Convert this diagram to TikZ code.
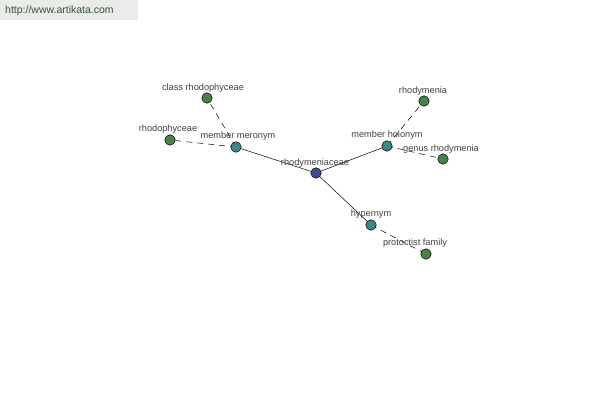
\documentclass[tikz,border=0pt]{standalone}
\usepackage{fontspec}
\setmainfont{Liberation Sans}
\begin{document}
\begin{tikzpicture}[x=1pt,y=-1pt,
  vtx/.style={circle,draw=black,line width=0.5pt,minimum size=10.5pt,inner sep=0pt},
  leaf/.style={vtx,fill={rgb,255:red,72;green,130;blue,72}},
  rel/.style={vtx,fill={rgb,255:red,58;green,136;blue,140}},
  hub/.style={vtx,fill={rgb,255:red,70;green,70;blue,150}},
  lbl/.style={font=\fontsize{9.2}{11}\selectfont,text=black!75,inner sep=0pt},
  solidedge/.style={draw=black,line width=0.5pt},
  dashedge/.style={draw=black,line width=0.5pt,dashed,dash pattern=on 6pt off 5pt}]
\useasboundingbox (0,0) rectangle (600,400);
\fill[white] (0,0) rectangle (600,400);
\fill[black!8] (0,0) rectangle (138,20);
\node[font=\fontsize{10.5}{12}\selectfont,text={rgb,255:red,55;green,85;blue,55},anchor=west,inner sep=0pt] (url) at (5,11) {http://www.artikata.com};
% nodes
\coordinate (c) at (316,173);
\coordinate (mm) at (236,147);
\coordinate (mh) at (387,146);
\coordinate (hy) at (371,225);
\coordinate (cr) at (207,98);
\coordinate (rp) at (170,140);
\coordinate (rm) at (424,101);
\coordinate (gr) at (443,159);
\coordinate (pf) at (426,254);
\draw[solidedge] (c) -- (mm);
\draw[solidedge] (c) -- (mh);
\draw[solidedge] (c) -- (hy);
\draw[dashedge] (mm) -- (cr);
\draw[dashedge] (mm) -- (rp);
\draw[dashedge] (mh) -- (rm);
\draw[dashedge] (mh) -- (gr);
\draw[dashedge] (hy) -- (pf);
\node[hub] (nc) at (c) {};
\node[rel] (nmm) at (mm) {};
\node[rel] (nmh) at (mh) {};
\node[rel] (nhy) at (hy) {};
\node[leaf] (ncr) at (cr) {};
\node[leaf] (nrp) at (rp) {};
\node[leaf] (nrm) at (rm) {};
\node[leaf] (ngr) at (gr) {};
\node[leaf] (npf) at (pf) {};
% labels
\node[lbl] (lc) at (315,163.5) {rhodymeniaceae};
\node[lbl] (lmm) at (238,136.5) {member meronym};
\node[lbl] (lmh) at (387,135.5) {member holonym};
\node[lbl] (lhy) at (371,214.5) {hypernym};
\node[lbl] (lcr) at (203,88.5) {class rhodophyceae};
\node[lbl] (lrp) at (168,129.5) {rhodophyceae};
\node[lbl] (lrm) at (423,91.5) {rhodymenia};
\node[lbl] (lgr) at (441,149.5) {genus rhodymenia};
\node[lbl] (lpf) at (415,243.5) {protoctist family};
\end{tikzpicture}
\end{document}
